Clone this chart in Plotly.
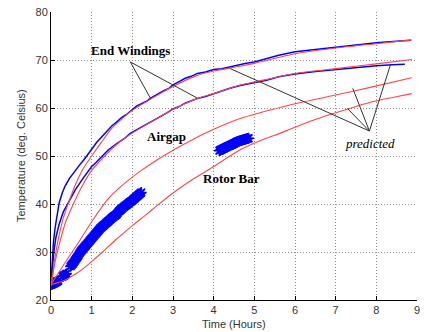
import plotly.graph_objects as go

# ---- measured end-winding curves (blue) ----
ew1_t = [0, 0.02, 0.04, 0.06, 0.1, 0.15, 0.2, 0.28, 0.35, 0.45, 0.55, 0.7, 0.8, 0.87, 1.0, 1.12, 1.25, 1.38, 1.5, 1.62, 1.75, 1.85, 1.95, 2.1, 2.2, 2.35, 2.44, 2.6, 2.75, 2.9, 3.0, 3.15, 3.3, 3.45, 3.6, 3.8, 4.0, 4.2, 4.4, 4.65, 4.8, 5.0, 5.3, 5.6, 6.0, 6.5, 7.0, 7.5, 8.0, 8.5, 8.85]
ew1_T = [23.3, 27.0, 29.8, 32.0, 35.0, 37.8, 40.2, 42.4, 43.8, 45.3, 46.5, 48.1, 49.1, 50.0, 51.4, 52.8, 54.0, 55.3, 56.3, 57.1, 58.1, 58.6, 59.3, 60.4, 60.8, 61.4, 62.0, 62.8, 63.5, 64.1, 64.8, 65.5, 66.2, 66.6, 67.2, 67.5, 68.0, 68.2, 68.6, 69.0, 69.3, 69.6, 70.3, 71.0, 71.7, 72.2, 72.7, 73.2, 73.6, 73.9, 74.1]

ew2_t = [0, 0.03, 0.07, 0.12, 0.2, 0.3, 0.42, 0.6, 0.8, 1.0, 1.1, 1.25, 1.4, 1.6, 1.8, 1.95, 2.1, 2.2, 2.44, 2.7, 2.85, 3.0, 3.15, 3.3, 3.6, 3.8, 4.0, 4.2, 4.4, 4.65, 5.0, 5.3, 5.6, 6.0, 6.5, 7.0, 7.5, 8.0, 8.4, 8.7]
ew2_T = [23.3, 26.8, 30.0, 33.0, 35.8, 38.3, 40.3, 43.0, 45.5, 47.8, 48.6, 50.0, 51.2, 52.5, 53.6, 54.7, 55.4, 56.0, 57.1, 58.3, 59.0, 59.8, 60.3, 61.0, 62.0, 62.4, 63.0, 63.6, 64.1, 64.7, 65.3, 65.8, 66.5, 67.1, 67.6, 68.0, 68.5, 68.8, 69.0, 69.1]

# ---- predicted curves (red) ----
p1_t = [0, 0.05, 0.1, 0.2, 0.3, 0.42, 0.6, 0.8, 1.0, 1.25, 1.5, 1.75, 2.0, 2.44, 3.0, 3.6, 4.0, 4.65, 5.0, 6.0, 7.0, 8.0, 8.87]
p1_T = [23.0, 26.0, 29.0, 33.5, 37.0, 40.0, 44.0, 47.5, 50.0, 53.0, 55.8, 57.8, 59.5, 61.8, 64.5, 66.8, 67.7, 68.7, 69.3, 71.3, 72.5, 73.4, 74.2]

p2_t = [0, 0.05, 0.1, 0.2, 0.35, 0.55, 0.75, 1.0, 1.32, 1.6, 1.95, 2.44, 3.0, 3.6, 4.0, 4.65, 5.0, 6.0, 7.0, 8.0, 8.87]
p2_T = [23.0, 25.5, 28.0, 31.5, 36.0, 40.0, 43.5, 47.0, 50.0, 52.3, 54.5, 57.0, 59.7, 62.0, 63.0, 64.8, 65.4, 67.2, 68.2, 69.2, 70.1]

p3_t = [0, 0.35, 0.7, 1.0, 1.4, 1.7, 2.0, 2.19, 2.5, 3.0, 3.5, 3.96, 4.65, 5.4, 6.0, 7.0, 7.85, 8.87]
p3_T = [23.3, 27.8, 32.3, 36.3, 41.0, 43.5, 45.6, 46.8, 48.6, 51.2, 53.5, 55.4, 57.8, 59.6, 60.9, 62.7, 64.3, 66.3]

p4_t = [0, 0.2, 0.4, 0.6, 0.8, 1.0, 1.28, 1.6, 2.0, 2.34, 2.6, 3.0, 3.5, 4.0, 4.65, 5.14, 5.5, 6.0, 6.5, 7.0, 7.5, 7.85, 8.4, 8.87]
p4_T = [23.2, 23.7, 24.4, 25.4, 26.6, 28.0, 30.1, 32.6, 35.5, 37.8, 39.6, 42.3, 45.2, 47.8, 51.3, 53.2, 54.3, 56.0, 57.6, 59.0, 60.3, 61.2, 62.2, 63.0]

# ---- measured rotor bar (blue asterisks) ----
rb1_t = [0.0, 0.02, 0.04, 0.06, 0.08, 0.1, 0.12, 0.14, 0.16, 0.18, 0.28, 0.3, 0.32, 0.34, 0.36, 0.38, 0.48, 0.5, 0.52, 0.54, 0.56, 0.58, 0.6, 0.62, 0.64, 0.66, 0.68, 0.7, 0.72, 0.74, 0.76, 0.78, 0.8, 0.82, 0.84, 0.86, 0.88, 0.9, 0.92, 0.94, 0.96, 0.98, 1.0, 1.02, 1.04, 1.06, 1.08, 1.1, 1.12, 1.14, 1.16, 1.18, 1.2, 1.22, 1.24, 1.26, 1.28, 1.3, 1.32, 1.34, 1.36, 1.38, 1.4, 1.42, 1.44, 1.46, 1.48, 1.5, 1.52, 1.54, 1.56, 1.58, 1.6, 1.62, 1.64, 1.66, 1.68, 1.7, 1.72, 1.74, 1.76, 1.78, 1.8, 1.82, 1.84, 1.86, 1.88, 1.9, 1.92, 1.94, 1.96, 1.98, 2.0, 2.02, 2.04, 2.06, 2.08, 2.1, 2.12, 2.14, 2.16, 2.18, 2.2, 2.22]
rb1_T = [23.2, 23.25, 23.3, 23.4, 23.5, 23.6, 23.7, 23.8, 23.9, 24.0, 24.9, 25.0, 25.1, 25.2, 25.35, 25.5, 27.0, 27.2, 27.4, 27.6, 27.85, 28.1, 28.35, 28.6, 28.85, 29.1, 29.4, 29.7, 29.95, 30.2, 30.4, 30.6, 30.8, 31.0, 31.2, 31.4, 31.6, 31.8, 32.0, 32.2, 32.4, 32.6, 32.8, 33.0, 33.2, 33.4, 33.6, 33.8, 34.0, 34.2, 34.4, 34.6, 34.8, 35.0, 35.15, 35.3, 35.45, 35.6, 35.75, 35.9, 36.05, 36.2, 36.35, 36.5, 36.65, 36.8, 36.95, 37.1, 37.25, 37.4, 37.5, 37.6, 37.75, 37.9, 38.15, 38.4, 38.55, 38.7, 38.85, 39.0, 39.15, 39.3, 39.45, 39.6, 39.7, 39.8, 39.95, 40.1, 40.25, 40.4, 40.5, 40.6, 40.75, 40.9, 41.05, 41.2, 41.35, 41.5, 41.65, 41.8, 41.95, 42.1, 42.25, 42.4]
rb2_t = [4.14, 4.16, 4.18, 4.2, 4.22, 4.24, 4.26, 4.28, 4.3, 4.32, 4.34, 4.36, 4.38, 4.4, 4.42, 4.44, 4.46, 4.48, 4.5, 4.52, 4.54, 4.56, 4.58, 4.6, 4.62, 4.64, 4.66, 4.68, 4.7, 4.72, 4.74, 4.76, 4.78, 4.8, 4.82, 4.84, 4.86]
rb2_T = [51.1, 51.2, 51.3, 51.4, 51.5, 51.55, 51.6, 51.7, 51.8, 51.9, 52.0, 52.05, 52.1, 52.2, 52.3, 52.35, 52.4, 52.5, 52.6, 52.7, 52.8, 52.9, 53.0, 53.05, 53.1, 53.15, 53.2, 53.25, 53.3, 53.35, 53.4, 53.45, 53.5, 53.55, 53.6, 53.65, 53.7]

x_ticks = [0, 1, 2, 3, 4, 5, 6, 7, 8, 9]
y_ticks = [20, 30, 40, 50, 60, 70, 80]

# annotation anchor points (data coords)
ew_label = (1.95, 72.0)
ew_arrow_start = (1.95, 69.6)
ew_arrow_ends = [(2.44, 62.1), (3.59, 62.1)]
airgap_label = (2.83, 54.0)
rotor_label = (4.43, 45.4)
pred_label = (7.85, 52.6)
pred_start = (7.83, 55.2)
pred_ends = [(4.41, 68.2), (7.42, 64.1), (7.29, 59.9), (8.35, 69.1)]

BLUE = "#0000ff"
RED = "rgb(255,70,70)"

fig = go.Figure()
for t, T in [(ew1_t, ew1_T), (ew2_t, ew2_T)]:
    fig.add_trace(go.Scatter(x=t, y=T, mode="lines", line=dict(color=BLUE, width=1.5), showlegend=False))
for t, T in [(rb1_t, rb1_T), (rb2_t, rb2_T)]:
    fig.add_trace(go.Scatter(x=t, y=T, mode="markers",
                             marker=dict(symbol="asterisk-open", size=9, color=BLUE, line=dict(color=BLUE, width=1.6)),
                             showlegend=False))
for t, T in [(p1_t, p1_T), (p2_t, p2_T), (p3_t, p3_T), (p4_t, p4_T)]:
    fig.add_trace(go.Scatter(x=t, y=T, mode="lines", line=dict(color=RED, width=1.1, shape="spline", smoothing=0.6),
                             showlegend=False))

# pointer lines
for e in ew_arrow_ends:
    fig.add_shape(type="line", x0=ew_arrow_start[0], y0=ew_arrow_start[1], x1=e[0], y1=e[1],
                  line=dict(color="#333333", width=1))
for e in pred_ends:
    fig.add_shape(type="line", x0=pred_start[0], y0=pred_start[1], x1=e[0], y1=e[1],
                  line=dict(color="#333333", width=1))

serif = "Liberation Serif, Times New Roman, serif"
fig.add_annotation(x=ew_label[0], y=ew_label[1], text="<b>End Windings</b>", showarrow=False,
                   font=dict(family=serif, size=13, color="black"))
fig.add_annotation(x=airgap_label[0], y=airgap_label[1], text="<b>Airgap</b>", showarrow=False,
                   font=dict(family=serif, size=13, color="black"))
fig.add_annotation(x=rotor_label[0], y=rotor_label[1], text="<b>Rotor Bar</b>", showarrow=False,
                   font=dict(family=serif, size=13, color="black"))
fig.add_annotation(x=pred_label[0], y=pred_label[1], text="<i>predicted</i>", showarrow=False,
                   font=dict(family=serif, size=13, color="black"))

axis_font = dict(family="Liberation Sans, Arial, sans-serif", size=11, color="#333333")
# axis titles as paper-anchored text
fig.add_annotation(xref="paper", yref="paper", x=0.5, y=0, yshift=-16, yanchor="top", xanchor="center",
                   text="Time (Hours)", showarrow=False, font=axis_font)
fig.add_annotation(xref="paper", yref="paper", x=0, y=0.5, xshift=-22, xanchor="right", yanchor="middle",
                   text="Temperature (deg. Celsius)", textangle=-90, showarrow=False, font=axis_font)

grid_kw = dict(showgrid=True, gridcolor="#8a8a8a", griddash="1px,2px", gridwidth=1, zeroline=False)
fig.update_xaxes(range=[0, 9], tickvals=x_ticks, ticks="inside", ticklen=4, tickcolor="black",
                 showline=True, linecolor="black", linewidth=1, tickfont=axis_font, automargin=False, **grid_kw)
fig.update_yaxes(range=[20, 80], tickvals=y_ticks, ticks="inside", ticklen=4, tickcolor="black",
                 showline=True, linecolor="black", linewidth=1, tickfont=axis_font, automargin=False, **grid_kw)
fig.update_layout(width=425, height=332, margin=dict(l=51, r=8, t=12, b=32),
                  plot_bgcolor="white", paper_bgcolor="white")
fig.write_html("out.html", config={"displayModeBar": False},
               post_script="document.body.style.margin='0';document.body.style.padding='0';document.body.style.overflow='hidden';")
